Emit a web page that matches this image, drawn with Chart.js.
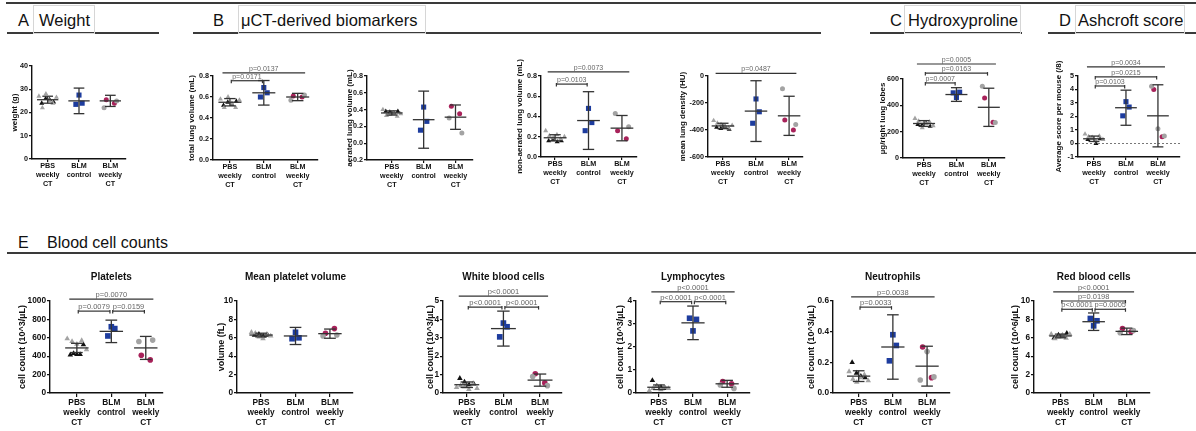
<!DOCTYPE html>
<html>
<head>
<meta charset="utf-8">
<script src="https://cdn.jsdelivr.net/npm/chart.js@4.4.1/dist/chart.umd.min.js"></script>
<style>
  body { margin: 0; width: 1196px; height: 431px; background: #fff; position: relative; overflow: hidden;
         font-family: "Liberation Sans", Arial, sans-serif; color: #111; }
  .rule { position: absolute; height: 2px; background: #3a3a3a; }
  .box { position: absolute; border: 1px solid #d6d6d6; box-sizing: border-box; }
  .hd { position: absolute; font-size: 16.5px; line-height: 17px; white-space: nowrap; }
  canvas { position: absolute; }
</style>
</head>
<body>
<div class="rule" style="left:6px;top:2px;width:1190px"></div>
<div class="rule" style="left:7px;top:32px;width:152px"></div>
<div class="rule" style="left:193px;top:32px;width:628px"></div>
<div class="rule" style="left:870px;top:32px;width:152px"></div>
<div class="rule" style="left:1048px;top:32px;width:148px"></div>
<div class="rule" style="left:7px;top:252px;width:1189px"></div>

<div class="box" style="left:33px;top:5px;width:62px;height:29px"></div>
<div class="box" style="left:238px;top:5px;width:188px;height:29px"></div>
<div class="box" style="left:904px;top:5px;width:117px;height:29px"></div>
<div class="box" style="left:1075px;top:5px;width:110px;height:29px"></div>

<div class="hd" style="left:18px;top:12px">A</div>
<div class="hd" style="left:39px;top:12px">Weight</div>
<div class="hd" style="left:213px;top:12px">B</div>
<div class="hd" style="left:241px;top:12px">μCT-derived biomarkers</div>
<div class="hd" style="left:890px;top:12px">C</div>
<div class="hd" style="left:908px;top:12px">Hydroxyproline</div>
<div class="hd" style="left:1059px;top:12px">D</div>
<div class="hd" style="left:1078px;top:12px">Ashcroft score</div>
<div class="hd" style="left:18px;top:234px;font-size:16px">E</div>
<div class="hd" style="left:47px;top:234px;font-size:16px">Blood cell counts</div>

<script>
const groups = [['PBS', 'weekly', 'CT'], ['BLM', 'control'], ['BLM', 'weekly', 'CT']];

// A - weight (g)
const weightTicks = ['0', '10', '20', '30', '40'];
const weightPbsBlack = [24, 26, 25.5, 24.5];
const weightPbsGrey = [27, 22, 28, 25, 24, 26.5];
const weightBlm = [23.5, 27.5, 24];
const weightWeeklyRed = [25.5, 24];
const weightWeeklyGrey = [22, 25];
const weightMean = [25.5, 25, 25];
const weightSd = [1.5, 5.5, 2.4];

// B - total lung volume (mL)
const totalTicks = ['0.0', '0.2', '0.4', '0.6', '0.8'];
const totalPbsBlack = [0.52, 0.55, 0.53, 0.56];
const totalPbsGrey = [0.58, 0.5, 0.6, 0.54, 0.5, 0.57];
const totalBlm = [0.6, 0.69, 0.64];
const totalWeeklyRed = [0.61, 0.6];
const totalWeeklyGrey = [0.57, 0.62];
const totalMean = [0.55, 0.64, 0.6];
const totalSd = [0.035, 0.117, 0.035];
const totalPairs = [[1, 2, 0.755], [1, 3, 0.83]];
const totalP = ['p=0.0171', 'p=0.0137'];

// B - aerated lung volume (mL)
const aeratedTicks = ['-0.2', '0.0', '0.2', '0.4', '0.6', '0.8'];
const aeratedPbsBlack = [0.38, 0.37, 0.36, 0.38];
const aeratedPbsGrey = [0.4, 0.33, 0.34, 0.36, 0.32, 0.35];
const aeratedBlm = [0.155, 0.43, 0.26];
const aeratedWeeklyRed = [0.44, 0.35];
const aeratedWeeklyGrey = [0.3, 0.12];
const aeratedMean = [0.36, 0.28, 0.31];
const aeratedSd = [0.025, 0.34, 0.145];

// B - non-aerated lung volume (mL)
const nonAeratedTicks = ['0.0', '0.2', '0.4', '0.6', '0.8'];
const nonAeratedPbsBlack = [0.16, 0.17, 0.15, 0.16];
const nonAeratedPbsGrey = [0.26, 0.21, 0.19, 0.22, 0.18, 0.2];
const nonAeratedBlm = [0.26, 0.48, 0.34];
const nonAeratedWeeklyRed = [0.26, 0.18];
const nonAeratedWeeklyGrey = [0.43, 0.3];
const nonAeratedMean = [0.19, 0.36, 0.285];
const nonAeratedSd = [0.03, 0.285, 0.125];
const nonAeratedPairs = [[1, 2, 0.72], [1, 3, 0.84]];
const nonAeratedP = ['p=0.0103', 'p=0.0073'];

// B - mean lung density (HU)
const densityTicks = ['-600', '-400', '-200', '0'];
const densityPbsBlack = [-380, -390, -375, -395];
const densityPbsGrey = [-330, -350, -360, -370, -385, -365];
const densityBlm = [-350, -170, -265];
const densityWeeklyRed = [-325, -400];
const densityWeeklyGrey = [-95, -360];
const densityMean = [-370, -260, -295];
const densitySd = [20, 225, 145];
const densityPairs = [[1, 3, 20]];
const densityP = ['p=0.0487'];

// C - hydroxyproline (µg/right lung lobes)
const hydroxyTicks = ['0', '200', '400', '600'];
const hydroxyPbsBlack = [255, 250, 265, 240];
const hydroxyPbsGrey = [300, 280, 230, 260, 275, 245];
const hydroxyBlm = [495, 460, 500];
const hydroxyWeeklyRed = [455, 272];
const hydroxyWeeklyGrey = [545, 270];
const hydroxyMean = [262, 482, 385];
const hydroxySd = [22, 52, 145];
const hydroxyPairs = [[1, 2, 570], [1, 3, 645], [1, 3, 714]];
const hydroxyP = ['p=0.0007', 'p=0.0163', 'p=0.0005'];

// D - Ashcroft score
const ashcroftTicks = ['-1', '0', '1', '2', '3', '4', '5'];
const ashcroftPbsBlack = [0.3, 0.4, 0.0, 0.35];
const ashcroftPbsGrey = [0.7, 0.5, 0.45, 0.2, 0.55, 0.3];
const ashcroftBlm = [2.05, 3.1, 2.7];
const ashcroftWeeklyRed = [4.0, 0.5];
const ashcroftWeeklyGrey = [4.25, 1.1, 0.55];
const ashcroftMean = [0.35, 2.65, 2.05];
const ashcroftSd = [0.2, 1.3, 2.3];
const ashcroftPairs = [[1, 2, 4.26], [1, 3, 4.93], [1, 3, 5.67]];
const ashcroftP = ['p=0.0103', 'p=0.0215', 'p=0.0034'];

// E - platelets
const plateletTicks = ['0', '200', '400', '600', '800', '1000'];
const plateletPbsBlack = [415, 430, 420, 420, 525];
const plateletPbsGrey = [590, 560, 530, 570, 470];
const plateletBlm = [620, 720, 700];
const plateletWeeklyRed = [410, 360];
const plateletWeeklyGrey = [560, 575];
const plateletMean = [490, 670, 490];
const plateletSd = [50, 122, 125];
const plateletPairs = [[1, 2, 890], [2, 3, 890], [1, 3, 1020]];
const plateletP = ['p=0.0079', 'p=0.0159', 'p=0.0070'];

// E - mean platelet volume
const mpvTicks = ['0', '2', '4', '6', '8', '10'];
const mpvPbsBlack = [6.3, 6.4, 6.2, 6.3];
const mpvPbsGrey = [6.6, 6.5, 6.1, 5.9, 6.4, 6.2];
const mpvBlm = [5.9, 6.6, 6.0];
const mpvWeeklyRed = [6.5, 7.0];
const mpvWeeklyGrey = [6.2, 6.3];
const mpvMean = [6.3, 6.2, 6.45];
const mpvSd = [0.2, 0.93, 0.5];

// E - white blood cells
const wbcTicks = ['0', '1', '2', '3', '4', '5'];
const wbcPbsBlack = [0.8, 0.6, 0.45, 0.5];
const wbcPbsGrey = [0.3, 0.4, 0.35, 0.2, 0.5, 0.25];
const wbcBlm = [3.05, 3.8, 3.6];
const wbcWeeklyRed = [1.05, 0.55];
const wbcWeeklyGrey = [0.9, 0.4];
const wbcMean = [0.45, 3.5, 0.7];
const wbcSd = [0.15, 0.95, 0.33];
const wbcPairs = [[1, 2, 4.67], [2, 3, 4.67], [1, 3, 5.27]];
const wbcP = ['p<0.0001', 'p<0.0001', 'p<0.0001'];

// E - lymphocytes
const lymphTicks = ['0', '1', '2', '3', '4'];
const lymphPbsBlack = [0.55, 0.3, 0.25, 0.2];
const lymphPbsGrey = [0.1, 0.2, 0.3, 0.15, 0.25, 0.2];
const lymphBlm = [3.25, 2.7, 3.2];
const lymphWeeklyRed = [0.5, 0.4];
const lymphWeeklyGrey = [0.35, 0.2];
const lymphMean = [0.25, 3.05, 0.4];
const lymphSd = [0.1, 0.73, 0.15];
const lymphPairs = [[1, 2, 3.97], [2, 3, 3.97], [1, 3, 4.4]];
const lymphP = ['p<0.0001', 'p<0.0001', 'p<0.0001'];

// E - neutrophils
const neutTicks = ['0.0', '0.2', '0.4', '0.6'];
const neutPbsBlack = [0.2, 0.13, 0.11, 0.1];
const neutPbsGrey = [0.14, 0.09, 0.07, 0.1, 0.12, 0.08];
const neutBlm = [0.21, 0.38, 0.31];
const neutWeeklyRed = [0.3, 0.1];
const neutWeeklyGrey = [0.085, 0.27, 0.105];
const neutMean = [0.11, 0.3, 0.175];
const neutSd = [0.035, 0.21, 0.13];
const neutPairs = [[1, 2, 0.56], [1, 3, 0.627]];
const neutP = ['p=0.0033', 'p=0.0038'];

// E - red blood cells
const rbcTicks = ['0', '2', '4', '6', '8', '10'];
const rbcPbsBlack = [6.0, 6.3, 6.2, 6.5];
const rbcPbsGrey = [6.4, 5.9, 6.1, 6.3, 5.95, 6.4];
const rbcBlm = [8.1, 7.3, 7.85];
const rbcWeeklyRed = [7.0, 6.65];
const rbcWeeklyGrey = [6.55, 6.8];
const rbcMean = [6.2, 7.75, 6.7];
const rbcSd = [0.2, 0.95, 0.35];
const rbcPairs = [[1, 2, 9.1], [2, 3, 9.1], [1, 3, 10], [1, 3, 11]];
const rbcP = ['p<0.0001', 'p=0.0005', 'p=0.0198', 'p<0.0001'];

const INK = '#111';
const GREY = '#a3a3a3';
const BLUE = '#1d3c9e';
const RED = '#a8225a';
Chart.defaults.font.family = '"Liberation Sans", Arial, sans-serif';

const topRow = { font: 7.2, lineH: 1.25, axisFont: 8, pFont: 7, tick: 3, labelPad: 0, axisH: 34, padTop: 30, r: 2.5, sq: 3.6 };
const bottomRow = { font: 8.3, lineH: 1.2, axisFont: 9, pFont: 7.5, tick: 4, labelPad: 1, axisH: 38, padTop: 38, r: 2.8, sq: 4 };

// frame = [y title x, y axis x, top pixel, bottom pixel, right pixel]
const panels = [
  { row: topRow, frame: [15, 32, 66, 159, 126], xr: [0.5, 3.5], yTitle: 'weight (g)', ticks: weightTicks,
    pts: [weightPbsBlack, weightPbsGrey, weightBlm, weightWeeklyRed, weightWeeklyGrey], mean: weightMean, sd: weightSd },
  { row: topRow, frame: [192, 213, 76, 160, 318], xr: [0.5, 3.6], yTitle: 'total lung volume (mL)', ticks: totalTicks,
    pts: [totalPbsBlack, totalPbsGrey, totalBlm, totalWeeklyRed, totalWeeklyGrey], mean: totalMean, sd: totalSd,
    pairs: totalPairs, p: totalP },
  { row: topRow, frame: [350, 367, 76, 160, 473], xr: [0.22, 3.55], yTitle: 'aerated lung volume (mL)', ticks: aeratedTicks,
    pts: [aeratedPbsBlack, aeratedPbsGrey, aeratedBlm, aeratedWeeklyRed, aeratedWeeklyGrey], mean: aeratedMean, sd: aeratedSd },
  { row: topRow, frame: [520, 541, 76, 157, 637], xr: [0.58, 3.45], yTitle: 'non-aerated lung volume (mL)', ticks: nonAeratedTicks,
    pts: [nonAeratedPbsBlack, nonAeratedPbsGrey, nonAeratedBlm, nonAeratedWeeklyRed, nonAeratedWeeklyGrey], mean: nonAeratedMean, sd: nonAeratedSd,
    pairs: nonAeratedPairs, p: nonAeratedP },
  { row: topRow, frame: [683, 708, 76, 157, 803], xr: [0.55, 3.42], yTitle: 'mean lung density (HU)', ticks: densityTicks,
    pts: [densityPbsBlack, densityPbsGrey, densityBlm, densityWeeklyRed, densityWeeklyGrey], mean: densityMean, sd: densitySd,
    pairs: densityPairs, p: densityP },
  { row: topRow, frame: [883, 903, 79, 158, 1005], xr: [0.35, 3.5], yTitle: 'µg/right lung lobes', ticks: hydroxyTicks,
    pts: [hydroxyPbsBlack, hydroxyPbsGrey, hydroxyBlm, hydroxyWeeklyRed, hydroxyWeeklyGrey], mean: hydroxyMean, sd: hydroxySd,
    pairs: hydroxyPairs, p: hydroxyP },
  { row: topRow, frame: [1059, 1078, 76, 157, 1180], xr: [0.5, 3.69], yTitle: 'Average score per mouse (/8)', ticks: ashcroftTicks,
    pts: [ashcroftPbsBlack, ashcroftPbsGrey, ashcroftBlm, ashcroftWeeklyRed, ashcroftWeeklyGrey], mean: ashcroftMean, sd: ashcroftSd,
    pairs: ashcroftPairs, p: ashcroftP, zero: true },
  { row: bottomRow, frame: [22, 50, 301, 393, 163], xr: [0.22, 3.5], title: 'Platelets', yTitle: 'cell count (10^3/µL)', ticks: plateletTicks,
    pts: [plateletPbsBlack, plateletPbsGrey, plateletBlm, plateletWeeklyRed, plateletWeeklyGrey], mean: plateletMean, sd: plateletSd,
    pairs: plateletPairs, p: plateletP },
  { row: bottomRow, frame: [221, 237, 301, 393, 353], xr: [0.3, 3.67], title: 'Mean platelet volume', yTitle: 'volume (fL)', ticks: mpvTicks,
    pts: [mpvPbsBlack, mpvPbsGrey, mpvBlm, mpvWeeklyRed, mpvWeeklyGrey], mean: mpvMean, sd: mpvSd },
  { row: bottomRow, frame: [430, 443, 301, 393, 562], xr: [0.35, 3.6], title: 'White blood cells', yTitle: 'cell count (10^3/µL)', ticks: wbcTicks,
    pts: [wbcPbsBlack, wbcPbsGrey, wbcBlm, wbcWeeklyRed, wbcWeeklyGrey], mean: wbcMean, sd: wbcSd,
    pairs: wbcPairs, p: wbcP },
  { row: bottomRow, frame: [620, 636, 301, 393, 750], xr: [0.33, 3.67], title: 'Lymphocytes', yTitle: 'cell count (10^3/µL)', ticks: lymphTicks,
    pts: [lymphPbsBlack, lymphPbsGrey, lymphBlm, lymphWeeklyRed, lymphWeeklyGrey], mean: lymphMean, sd: lymphSd,
    pairs: lymphPairs, p: lymphP },
  { row: bottomRow, frame: [811, 833, 301, 393, 950], xr: [0.25, 3.67], title: 'Neutrophils', yTitle: 'cell count (10^3/µL)', ticks: neutTicks,
    pts: [neutPbsBlack, neutPbsGrey, neutBlm, neutWeeklyRed, neutWeeklyGrey], mean: neutMean, sd: neutSd,
    pairs: neutPairs, p: neutP },
  { row: bottomRow, frame: [1015, 1034, 301, 393, 1150], xr: [0.2, 3.7], title: 'Red blood cells', yTitle: 'cell count (10^6/µL)', ticks: rbcTicks,
    pts: [rbcPbsBlack, rbcPbsGrey, rbcBlm, rbcWeeklyRed, rbcWeeklyGrey], mean: rbcMean, sd: rbcSd,
    pairs: rbcPairs, p: rbcP }
];

// spread the dots of one group sideways so they don't sit on top of each other
function spread(values, centre, half) {
  const n = values.length;
  return values.map((v, i) => ({ x: n > 1 ? centre - half + 2 * half * i / (n - 1) : centre, y: v }));
}

function line(ctx, x1, y1, x2, y2) {
  ctx.beginPath();
  ctx.moveTo(x1, y1);
  ctx.lineTo(x2, y2);
  ctx.stroke();
}

function statsPlugin(p) {
  return {
    id: 'stats',
    afterDatasetsDraw(chart) {
      const { ctx, chartArea: a } = chart;
      const xs = chart.scales.x, ys = chart.scales.y;
      const row = p.row;
      ctx.save();

      if (p.zero) {
        ctx.strokeStyle = '#555';
        ctx.lineWidth = 0.8;
        ctx.setLineDash([2, 2]);
        const y0 = ys.getPixelForValue(0);
        line(ctx, a.left, y0, a.right, y0);
        ctx.setLineDash([]);
      }

      // mean and SD
      ctx.strokeStyle = '#333';
      ctx.lineWidth = 1.3;
      p.mean.forEach((m, i) => {
        const c = i + 1;
        const xc = xs.getPixelForValue(c);
        const yM = ys.getPixelForValue(m);
        const yT = ys.getPixelForValue(m + p.sd[i]);
        const yB = ys.getPixelForValue(m - p.sd[i]);
        line(ctx, xs.getPixelForValue(c - 0.34), yM, xs.getPixelForValue(c + 0.34), yM);
        line(ctx, xc, yT, xc, yB);
        line(ctx, xs.getPixelForValue(c - 0.17), yT, xs.getPixelForValue(c + 0.17), yT);
        line(ctx, xs.getPixelForValue(c - 0.17), yB, xs.getPixelForValue(c + 0.17), yB);
      });

      // significance brackets, the last one is a plain wide line
      if (p.pairs) {
        ctx.font = row.pFont + 'px "Liberation Sans", Arial, sans-serif';
        ctx.textAlign = 'center';
        ctx.textBaseline = 'alphabetic';
        p.pairs.forEach((pr, i) => {
          const plain = i === p.pairs.length - 1;
          const x1 = xs.getPixelForValue(plain ? pr[0] - 0.22 : pr[0] + 0.04);
          const x2 = xs.getPixelForValue(plain ? pr[1] + 0.22 : pr[1] - 0.04);
          const y = ys.getPixelForValue(pr[2]);
          ctx.strokeStyle = '#333';
          ctx.lineWidth = 1.2;
          line(ctx, x1, y, x2, y);
          if (!plain) {
            line(ctx, x1, y - 1, x1, y + 2.5);
            line(ctx, x2, y - 1, x2, y + 2.5);
          }
          ctx.fillStyle = '#666';
          ctx.fillText(p.p[i], (x1 + x2) / 2, y - 2);
        });
      }

      if (p.title) {
        ctx.fillStyle = INK;
        ctx.font = 'bold 10px "Liberation Sans", Arial, sans-serif';
        ctx.textAlign = 'center';
        ctx.textBaseline = 'middle';
        ctx.fillText(p.title, xs.getPixelForValue(2), a.top - 24);
      }
      ctx.restore();
    }
  };
}

panels.forEach(p => {
  const row = p.row;
  const [titleX, axisX, topY, bottomY, rightX] = p.frame;
  const left = Math.round(titleX - row.axisFont * 1.2 / 2);
  const top = topY - row.padTop;
  const padRight = 8;
  const width = rightX - left + padRight;
  const height = bottomY - top + row.axisH;

  const canvas = document.createElement('canvas');
  canvas.width = width;
  canvas.height = height;
  canvas.style.left = left + 'px';
  canvas.style.top = top + 'px';
  canvas.style.width = width + 'px';
  canvas.style.height = height + 'px';
  document.body.appendChild(canvas);

  const tickVals = p.ticks.map(Number);
  const tickFont = { size: row.font, weight: 'bold', lineHeight: row.lineH };
  const xGrid = { display: true, drawOnChartArea: false, drawTicks: true, tickLength: row.tick, color: INK, lineWidth: 1.2 };
  const yGrid = { display: true, drawOnChartArea: false, drawTicks: true, tickLength: 3, color: INK, lineWidth: 1.2 };

  const [pbsBlack, pbsGrey, blm, weeklyRed, weeklyGrey] = p.pts;
  new Chart(canvas, {
    type: 'scatter',
    data: {
      datasets: [
        { data: spread(pbsGrey, 1, 0.28), pointStyle: 'triangle', backgroundColor: GREY, borderWidth: 0, pointRadius: row.r + 0.4 },
        { data: spread(pbsBlack, 1, 0.19), pointStyle: 'triangle', backgroundColor: INK, borderWidth: 0, pointRadius: row.r + 0.4 },
        { data: spread(blm, 2, 0.1), pointStyle: 'rect', backgroundColor: BLUE, borderWidth: 0, pointRadius: row.sq },
        { data: spread(weeklyGrey, 3, 0.2), pointStyle: 'circle', backgroundColor: GREY, borderWidth: 0, pointRadius: row.r },
        { data: spread(weeklyRed, 3, 0.13), pointStyle: 'circle', backgroundColor: RED, borderWidth: 0, pointRadius: row.r }
      ]
    },
    options: {
      responsive: false,
      animation: false,
      devicePixelRatio: 1,
      layout: { padding: { top: row.padTop, right: padRight, left: 0, bottom: 0 } },
      plugins: { legend: { display: false }, tooltip: { enabled: false }, title: { display: false } },
      scales: {
        x: {
          type: 'linear',
          min: p.xr[0],
          max: p.xr[1],
          afterBuildTicks: s => { s.ticks = [1, 2, 3].map(v => ({ value: v })); },
          afterFit: s => { s.height = row.axisH; },
          grid: xGrid,
          border: { display: true, color: INK, width: 1.4 },
          ticks: { autoSkip: false, maxRotation: 0, minRotation: 0, padding: row.labelPad, color: INK, font: tickFont,
                   callback: v => groups[v - 1] }
        },
        y: {
          type: 'linear',
          min: tickVals[0],
          max: tickVals[tickVals.length - 1],
          afterBuildTicks: s => { s.ticks = tickVals.map(v => ({ value: v })); },
          afterFit: s => { s.width = axisX - left; },
          grid: yGrid,
          border: { display: true, color: INK, width: 1.4 },
          title: { display: true, text: p.yTitle, color: INK, padding: 0,
                   font: { size: row.axisFont, weight: 'bold', lineHeight: 1.2 } },
          ticks: { padding: 1, color: INK, font: tickFont, callback: (v, i) => p.ticks[i] }
        }
      }
    },
    plugins: [statsPlugin(p)]
  });
});
</script>
</body>
</html>
